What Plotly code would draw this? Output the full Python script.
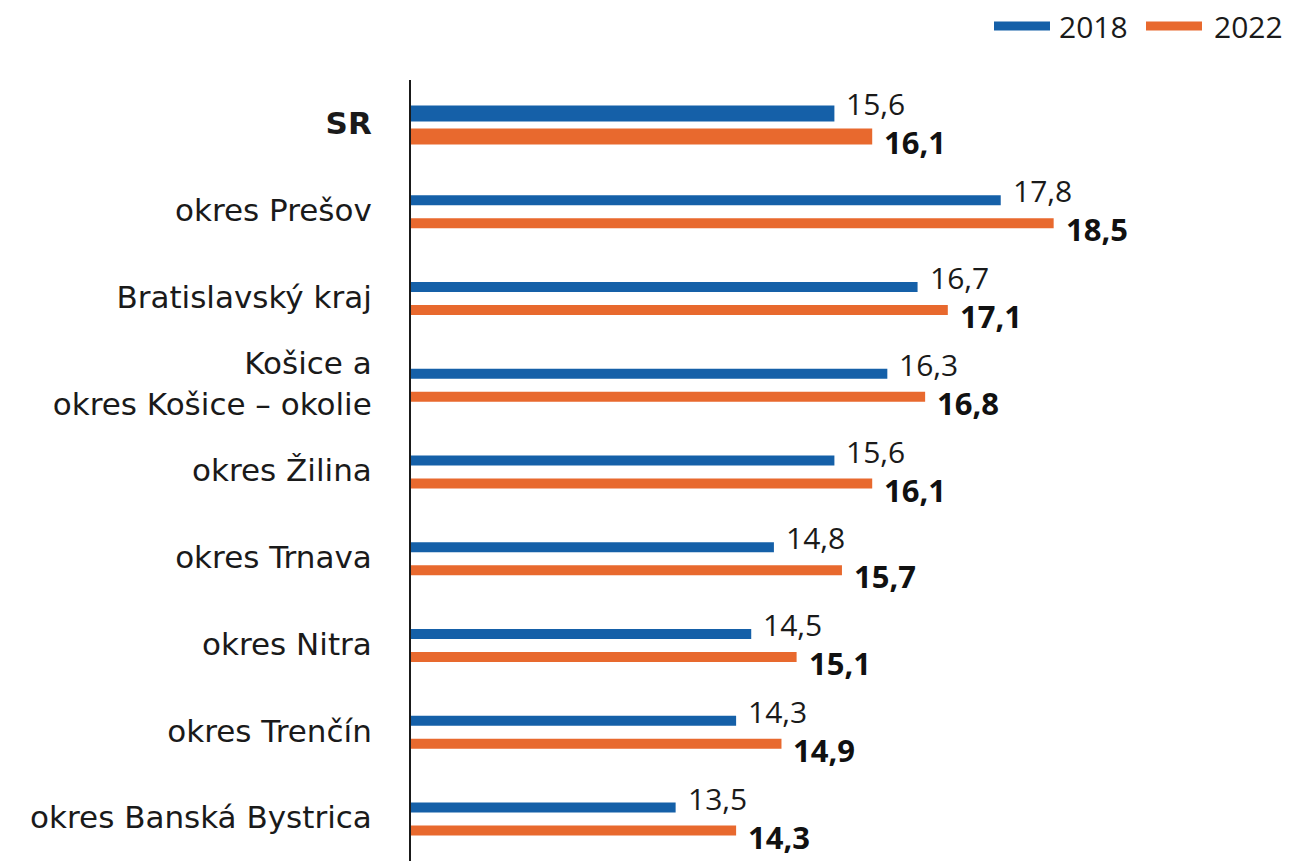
import plotly.graph_objects as go

categories = ["SR", "okres Prešov", "Bratislavský kraj", "Košice a<br>okres Košice – okolie",
              "okres Žilina", "okres Trnava", "okres Nitra", "okres Trenčín", "okres Banská Bystrica"]
values_2018 = [15.6, 17.8, 16.7, 16.3, 15.6, 14.8, 14.5, 14.3, 13.5]
values_2022 = [16.1, 18.5, 17.1, 16.8, 16.1, 15.7, 15.1, 14.9, 14.3]
series_names = ["2018", "2022"]
highlight = "SR"
colors = ["#1560A8", "#E8692E"]

LABEL_FONT = "DejaVu Sans"
VAL_FONT = "Open Sans"
TXT = "#1a1a1a"

FIG_W, FIG_H = 1291, 861
L, W, T = 411, 840, 80
H = FIG_H - T
PX = H / len(categories)          # pixels per category step

tick_text = [f"<b>{c}</b>" if c == highlight else c for c in categories]

# bar geometry (in category units): the national row gets thicker bars
thin, thick = 10 / PX, 16 / PX
centers = [-10 / PX, 13 / PX]

fig = go.Figure()
for name, vals, col, ctr in zip(series_names, [values_2018, values_2022], colors, centers):
    widths = [thick if c == highlight else thin for c in categories]
    offsets = [ctr - w / 2 for w in widths]
    fig.add_trace(go.Bar(y=categories, x=vals, orientation="h", name=name,
                         width=widths, offset=offsets,
                         marker=dict(color=col, line=dict(width=0)), showlegend=False))

def fmt(v):
    return f"{v:.1f}".replace(".", ",")

annotations = []
for c, v in zip(categories, values_2018):
    annotations.append(dict(x=v, y=c, xref="x", yref="y", text=fmt(v), showarrow=False,
                            xanchor="left", yanchor="middle", xshift=10, yshift=19.5,
                            font=dict(family=VAL_FONT, size=30, color=TXT)))
for c, v in zip(categories, values_2022):
    annotations.append(dict(x=v, y=c, xref="x", yref="y", text="<b>" + fmt(v) + "</b>", showarrow=False,
                            xanchor="left", yanchor="middle", xshift=10, yshift=-19,
                            font=dict(family=VAL_FONT, size=31, color="#111111")))

# legend (drawn manually to get long line symbols)
shapes = []
leg_line_x = [994, 1146]
leg_text_x = [1057, 1212]
yy = (FIG_H - 26) / H
for name, col, lx, tx in zip(series_names, colors, leg_line_x, leg_text_x):
    shapes.append(dict(type="line", xref="paper", yref="paper",
                       x0=(lx - L) / W, x1=(lx + 56 - L) / W, y0=yy, y1=yy,
                       line=dict(color=col, width=9)))
    annotations.append(dict(xref="paper", yref="paper", x=(tx - L) / W, y=yy,
                            text=name, showarrow=False, xanchor="left", yanchor="middle",
                            font=dict(family=VAL_FONT, size=30, color=TXT)))

fig.update_layout(
    width=FIG_W, height=FIG_H,
    margin=dict(l=L, r=FIG_W - L - W, t=T, b=0, autoexpand=False),
    barmode="overlay",
    plot_bgcolor="white", paper_bgcolor="white",
    font=dict(family=LABEL_FONT, size=31, color=TXT),
    xaxis=dict(range=[10, 21.11], visible=False, showgrid=False, zeroline=False, automargin=False),
    yaxis=dict(showgrid=False, zeroline=False, automargin=False,
               range=[len(categories) - 0.5, -0.5],
               tickmode="array", tickvals=categories, ticktext=tick_text,
               showline=True, linecolor="#1a1a1a", linewidth=2,
               ticks="", ticklabelstandoff=31,
               tickfont=dict(family=LABEL_FONT, size=31, color=TXT)),
    annotations=annotations, shapes=shapes,
)

# remove the default 8px page margin so the figure fills the window exactly
fig.write_html("out.html", config={"displayModeBar": False},
               post_script="document.body.style.margin='0';document.body.style.overflow='hidden';")
